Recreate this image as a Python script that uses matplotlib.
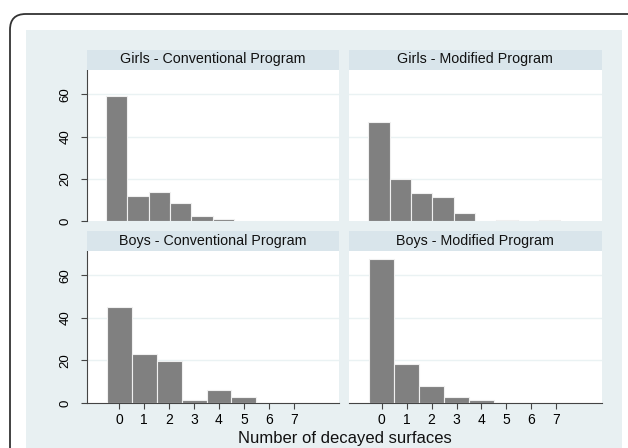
import matplotlib
matplotlib.use("Agg")
import matplotlib.pyplot as plt
from matplotlib.patches import FancyBboxPatch, Rectangle
import numpy as np

plt.rcParams['font.family'] = ['Liberation Sans', 'DejaVu Sans']

# data: percent of children by number of decayed surfaces (bin index)
titles = ['Girls - Conventional Program', 'Girls - Modified Program',
          'Boys - Conventional Program', 'Boys - Modified Program']
girls_conv = [59, 12, 13.6, 8.7, 2.5, 0.9, 0, 0, 0]
girls_mod = [47, 19.7, 13.4, 11.4, 3.6, 0, 0.5, 0, 0.5]
boys_conv = [45.1, 23, 19.8, 1.3, 5.9, 2.8, 0, 0]
boys_mod = [67.6, 18.3, 8.0, 3.0, 1.4, 0, 0, 0]
panel_counts = [girls_conv, girls_mod, boys_conv, boys_mod]
xticks = [0, 1, 2, 3, 4, 5, 6, 7]
yticks = [0, 20, 40, 60]
xlabel = 'Number of decayed surfaces'

# layout (bin start / width differ between the rows, as in the original)
bins = {0: (-0.54, 0.857), 1: (-0.5, 1.0)}
bar_col = '#808080'
strip_col = '#d9e5eb'
bg_col = '#e8f0f2'
grid_col = '#eaf2f3'

W, H = 628, 448
fig = plt.figure(figsize=(W / 100, H / 100), dpi=100)
fig.patch.set_facecolor('white')

# outer rounded frame (runs off the right and bottom edges) + light background
frame = FancyBboxPatch((10 / W, 1 - 480 / H), 700 / W, 466 / H,
                       boxstyle="round,pad=0,rounding_size=0.025",
                       transform=fig.transFigure, facecolor='white',
                       edgecolor='#333333', linewidth=1.3, mutation_aspect=W / H,
                       zorder=-3)
fig.add_artist(frame)
fig.add_artist(Rectangle((26 / W, 0), (622 - 26) / W, 1 - 30 / H,
                         transform=fig.transFigure, facecolor=bg_col,
                         edgecolor='none', zorder=-2))

lefts = [86.5, 349]
right_w = 252.5
tops = [70, 251]
bots = [221, 403]

for i, counts in enumerate(panel_counts):
    row, col = divmod(i, 2)
    x0 = lefts[col]
    ax = fig.add_axes([x0 / W, 1 - bots[row] / H, right_w / W,
                       (bots[row] - tops[row]) / H])
    ax.set_facecolor('white')
    start, bw = bins[row]
    xs = start + bw * np.arange(len(counts))
    ax.bar(xs, counts, width=bw, align='edge', color=bar_col,
           edgecolor='#f0f0f0', linewidth=0.8, zorder=3)
    ax.set_xlim(-1.32, 8.82)
    ax.set_ylim(0, 71.5)
    ax.set_yticks(yticks)
    for y in yticks[1:]:
        ax.axhline(y, color=grid_col, linewidth=1.0, zorder=1)
    for s in ['top', 'right']:
        ax.spines[s].set_visible(False)
    ax.spines['left'].set_color('#444444')
    ax.spines['bottom'].set_color('#444444')
    ax.spines['left'].set_visible(col == 0)
    ax.spines['bottom'].set_visible(row == 1)
    if col == 0:
        ax.set_yticklabels([str(v) for v in yticks], rotation=90,
                           va='center', fontsize=9.5)
        ax.tick_params(axis='y', length=4, width=0.8, color='#444444', pad=7)
    else:
        ax.tick_params(axis='y', left=False, labelleft=False)
    if row == 1:
        ax.set_xticks(xticks)
        ax.set_xticklabels([str(v) for v in xticks], fontsize=10)
        ax.tick_params(axis='x', length=4, width=0.8, color='#444444', pad=3)
    else:
        ax.set_xticks([])

    # strip title
    fig.add_artist(Rectangle((x0 / W, 1 - tops[row] / H), right_w / W,
                             20 / H, transform=fig.transFigure,
                             facecolor=strip_col, edgecolor='none'))
    fig.text((x0 + right_w / 2) / W, 1 - (tops[row] - 10.5) / H, titles[i],
             ha='center', va='center', fontsize=10.3, color='#111111')

fig.text(345 / W, 1 - 438 / H, xlabel, ha='center', va='center',
         fontsize=12, color='#111111')

fig.savefig('out.png', dpi=100)
